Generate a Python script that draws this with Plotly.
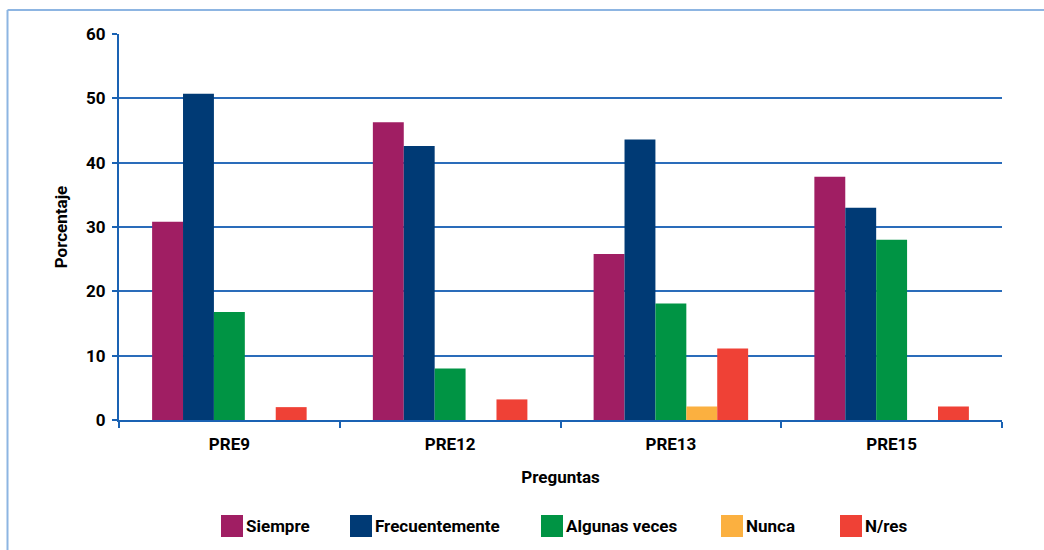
import plotly.graph_objects as go

categories = ["PRE9", "PRE12", "PRE13", "PRE15"]
series_names = ["Siempre", "Frecuentemente", "Algunas veces", "Nunca", "N/res"]
siempre = [30.8, 46.3, 25.8, 37.8]
frecuentemente = [50.7, 42.6, 43.6, 33.0]
algunas_veces = [16.8, 8.0, 18.1, 28.0]
nunca = [0.0, 0.0, 2.1, 0.0]
n_res = [2.0, 3.2, 11.1, 2.1]
y_ticks = [0, 10, 20, 30, 40, 50, 60]

colors = ["#a01e63", "#003a75", "#009444", "#fbb040", "#ef4136"]
values = [siempre, frecuentemente, algunas_veces, nunca, n_res]

FONT = "Roboto, Liberation Sans, sans-serif"
FS = 17
W, H = 1044, 550
L, R, T, B = 119, 42, 34, 130
pw, ph = W - L - R, H - T - B

def px_x(p):
    return (p - L) / pw

def px_y(p):
    return (H - B - p) / ph

fig = go.Figure()
for name, vals, col in zip(series_names, values, colors):
    fig.add_trace(go.Bar(x=categories, y=vals, name=name, marker=dict(color=col, line=dict(width=0)),
                         showlegend=False))

axis_blue = "#1a62b3"
fig.update_layout(
    width=W, height=H,
    margin=dict(l=L, r=R, t=T, b=B),
    paper_bgcolor="white", plot_bgcolor="white",
    barmode="group", bargap=0.30, bargroupgap=0,
    font=dict(family=FONT, size=FS, color="black"),
    xaxis=dict(
        title=dict(text="<b>Preguntas</b>", standoff=18, font=dict(size=FS)),
        tickfont=dict(size=FS),
        tickmode="array", tickvals=categories, ticktext=["<b>%s</b>" % c for c in categories],
        showline=True, linecolor=axis_blue, linewidth=2,
        ticks="outside", tickson="boundaries", ticklen=6, tickcolor=axis_blue, tickwidth=1.5,
        ticklabelstandoff=8,
        showgrid=False,
    ),
    yaxis=dict(
        title=dict(text="<b>Porcentaje</b>", standoff=14, font=dict(size=FS)),
        range=[0, 60], tickvals=y_ticks, ticktext=["<b>%d</b>" % v for v in y_ticks],
        tickfont=dict(size=FS),
        showline=True, linecolor=axis_blue, linewidth=2,
        ticks="outside", ticklen=5, tickcolor=axis_blue, tickwidth=1.5,
        ticklabelstandoff=3,
        showgrid=True, gridcolor="#2a6cba", gridwidth=2,
        zeroline=False,
    ),
)

shapes = []
annotations = []
# outer light-blue frame (left and top edges)
frame_col = "#8db5e2"
shapes.append(dict(type="line", xref="paper", yref="paper", x0=px_x(7.5), x1=px_x(7.5), y0=px_y(10), y1=px_y(560),
                   line=dict(color=frame_col, width=2)))
shapes.append(dict(type="line", xref="paper", yref="paper", x0=px_x(7.5), x1=px_x(1060), y0=px_y(10), y1=px_y(10),
                   line=dict(color=frame_col, width=2)))

# legend
legend_x = [221, 350, 541, 721, 840]
box = 22
ly0, ly1 = 515, 537
for name, col, lx in zip(series_names, colors, legend_x):
    shapes.append(dict(type="rect", xref="paper", yref="paper", x0=px_x(lx), x1=px_x(lx + box),
                       y0=px_y(ly1), y1=px_y(ly0), fillcolor=col, line=dict(width=0)))
    annotations.append(dict(xref="paper", yref="paper", x=px_x(lx + box + 1), y=px_y((ly0 + ly1) / 2),
                            xanchor="left", yanchor="middle", showarrow=False,
                            text="<b>%s</b>" % name, font=dict(size=FS, family=FONT, color="black")))

fig.update_layout(shapes=shapes, annotations=annotations)
fig.write_html("out.html")
